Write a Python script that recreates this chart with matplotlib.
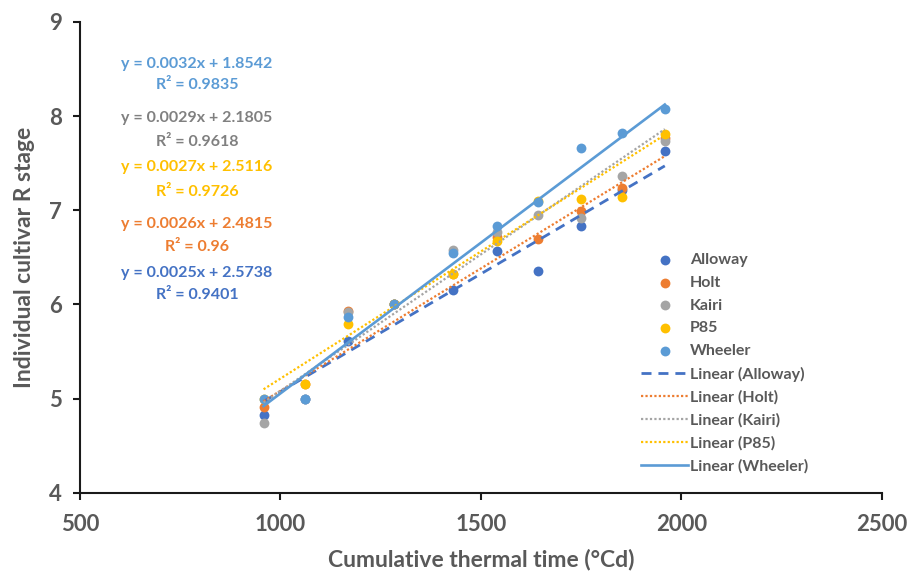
"""
Soybean cultivar R stage against cumulative thermal time, with linear trendlines.
"""

import matplotlib

matplotlib.use("Agg")
import matplotlib.pyplot as plt
import numpy as np

plt.rcParams["font.family"] = ["Lato", "DejaVu Sans"]

# thermal time (°Cd) of each sampling
thermal_time = [958, 1061, 1168, 1283, 1430, 1540, 1642, 1749, 1853, 1959]

# R stage observed per cultivar
alloway = [4.82, 5.00, 5.61, 6.00, 6.15, 6.57, 6.36, 6.83, 7.22, 7.63]
holt = [4.91, 5.15, 5.93, 6.00, 6.32, 6.72, 6.69, 6.99, 7.24, 7.77]
kairi = [4.74, 5.00, 5.92, 6.00, 6.58, 6.77, 6.95, 6.92, 7.36, 7.74]
p85 = [4.99, 5.15, 5.79, 6.00, 6.32, 6.67, 7.10, 7.12, 7.14, 7.81]
wheeler = [4.99, 4.99, 5.87, 6.00, 6.55, 6.83, 7.09, 7.66, 7.82, 8.08]

cultivars = ["Alloway", "Holt", "Kairi", "P85", "Wheeler"]
series = [alloway, holt, kairi, p85, wheeler]

# trendline coefficients as printed on the chart
slopes = [0.0025, 0.0026, 0.0029, 0.0027, 0.0032]
intercepts = [2.5738, 2.4815, 2.1805, 2.5116, 1.8542]
r_squared = ["0.9401", "0.96", "0.9618", "0.9726", "0.9835"]

colors = ["#4472C4", "#ED7D31", "#A5A5A5", "#FFC000", "#5B9BD5"]
label_colors = ["#4472C4", "#ED7D31", "#808080", "#FFC000", "#5B9BD5"]
line_styles = [(0, (3.6, 2.5)), (0, (1, 1)), (0, (1, 1)), (0, (1, 1)), "-"]
line_widths = [2.0, 1.6, 1.6, 1.6, 1.9]

fig = plt.figure(figsize=(9.11, 5.78), dpi=100)
ax = fig.add_axes([0.0878, 0.1476, 0.880, 0.8144])

x = np.array(thermal_time)
handles_pts = []
for name, vals, col in zip(cultivars, series, colors):
    h = ax.scatter(x, vals, s=50, color=col, zorder=2, linewidths=0, label=name)
    handles_pts.append(h)

handles_lines = []
for name, m, b, col, ls, lw in zip(
    cultivars, slopes, intercepts, colors, line_styles, line_widths
):
    xs = np.array([x.min(), x.max()])
    (h,) = ax.plot(
        xs, m * xs + b, color=col, linestyle=ls, linewidth=lw, zorder=3,
        label=f"Linear ({name})",
    )
    handles_lines.append(h)

ax.set_xlim(500, 2500)
ax.set_ylim(4, 9)
ax.set_xticks([500, 1000, 1500, 2000, 2500])
ax.set_yticks([4, 5, 6, 7, 8, 9])

for side in ("top", "right"):
    ax.spines[side].set_visible(False)
for side in ("left", "bottom"):
    ax.spines[side].set_linewidth(1.5)
    ax.spines[side].set_color("#1a1a1a")
ax.tick_params(direction="out", length=5, width=1.5, color="#1a1a1a",
               labelsize=16, labelcolor="#595959")
ax.tick_params(axis="x", pad=10)
ax.tick_params(axis="y", pad=8)
for lab in ax.get_xticklabels() + ax.get_yticklabels():
    lab.set_fontweight("bold")

ax.set_xlabel("Cumulative thermal time (°Cd)", fontsize=16.5, fontweight="bold",
              color="#595959", labelpad=10)
ax.set_ylabel("Individual cultivar R stage", fontsize=16.5, fontweight="bold",
              color="#595959", labelpad=10)

# equation labels, top to bottom: Wheeler, Kairi, P85, Holt, Alloway
order = [4, 2, 3, 1, 0]
eq_y = [64, 118, 167, 224, 273]
r2_y = [85, 142, 192, 247, 295]
for i, ye, yr in zip(order, eq_y, r2_y):
    fig.text(197 / 911, 1 - ye / 578, f"y = {slopes[i]:.4f}x + {intercepts[i]:.4f}",
             ha="center", va="center", fontsize=11.5, fontweight="bold",
             color=label_colors[i])
    fig.text(197 / 911, 1 - yr / 578, f"R² = {r_squared[i]}",
             ha="center", va="center", fontsize=11.5, fontweight="bold",
             color=label_colors[i])

leg = ax.legend(
    handles=handles_pts + handles_lines,
    loc="upper left",
    bbox_to_anchor=(641 / 911, 1 - 253 / 578),
    bbox_transform=fig.transFigure,
    frameon=False,
    fontsize=11.5,
    handlelength=2.95,
    handletextpad=0.12,
    labelspacing=0.535,
    borderpad=0,
    borderaxespad=0,
    scatterpoints=1,
)
for t in leg.get_texts():
    t.set_fontweight("bold")
    t.set_color("#595959")

fig.savefig("out.png", dpi=100)
